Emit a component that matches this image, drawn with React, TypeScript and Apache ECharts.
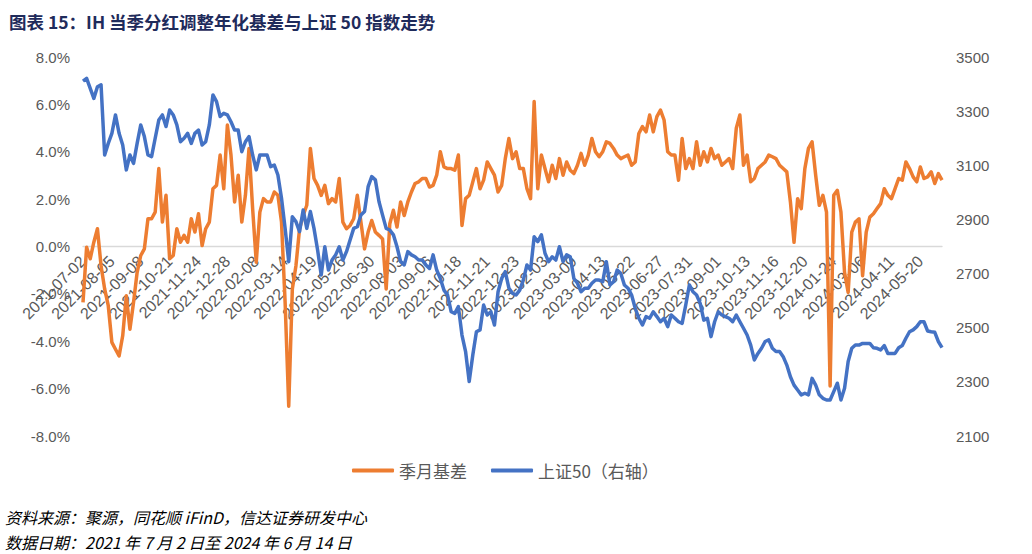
import React, { useEffect, useRef } from 'react';
import * as echarts from 'echarts';

const TITLE = '图表 15：IH 当季分红调整年化基差与上证 50 指数走势';
const SOURCE = '资料来源：聚源，同花顺 iFinD，信达证券研发中心';
const DATE_NOTE = '数据日期：2021 年 7 月 2 日至 2024 年 6 月 14 日';
const SERIES_NAMES = ['季月基差', '上证50（右轴）'];

// x-axis tick labels (one every 24 trading days)
const tickLabels = [
  '2021-07-02', '2021-08-05', '2021-09-08', '2021-10-21', '2021-11-24', '2021-12-28',
  '2022-02-08', '2022-03-14', '2022-04-19', '2022-05-26', '2022-06-30', '2022-08-03',
  '2022-09-06', '2022-10-18', '2022-11-21', '2022-12-23', '2023-02-03', '2023-03-09',
  '2023-04-13', '2023-05-22', '2023-06-27', '2023-07-31', '2023-09-01', '2023-10-13',
  '2023-11-16', '2023-12-20', '2024-01-24', '2024-03-06', '2024-04-11', '2024-05-20',
];

// sampled every 3 trading days
const STEP = 3;
const LABEL_EVERY = 24;

// 季月基差 (%), left axis
const basis = [
  -2.36, -0.03, -0.52, 0.18, 0.75, -0.81, -1.79, -2.50, -4.05, -4.34,
  -4.62, -3.77, -2.08, -3.49, -2.36, -1.09, -0.38, -0.10, 1.17, 1.17,
  1.45, 3.29, 1.03, 2.16, -0.52, -0.38, 0.75, 0.18, 0.47, 0.18,
  1.17, 0.61, 1.38, 0.04, 0.75, 1.03, 2.44, 2.58, 3.86, 2.44,
  5.13, 3.86, 1.88, 3.01, 1.03, 2.16, 4.14, 1.60, -0.66, 1.45,
  2.02, 1.88, 1.88, 2.30, 2.16, 1.03, -2.36, -6.74, -1.79, -0.81,
  0.75, 1.31, 1.74, 4.14, 2.87, 2.58, 2.16, 2.58, 1.81, 2.02,
  1.88, 2.87, 1.03, 0.75, 0.89, 1.17, 2.16, 1.03, -0.10, 0.61,
  1.10, 0.61, 0.47, 0.32, -1.79, 0.96, 1.53, 0.82, 1.88, 1.31,
  1.88, 2.30, 2.66, 2.73, 2.87, 2.87, 2.51, 2.58, 3.01, 4.00,
  3.36, 3.29, 3.29, 3.22, 3.86, 0.89, 2.02, 2.16, 2.73, 3.29,
  2.44, 2.80, 3.57, 3.29, 3.01, 2.30, 2.58, 3.71, 4.56, 3.71,
  4.00, 3.29, 3.29, 2.44, 2.02, 6.12, 2.44, 3.86, 3.29, 2.73,
  3.43, 2.87, 3.71, 3.01, 3.57, 3.22, 3.08, 3.43, 3.93, 3.43,
  3.86, 4.56, 4.00, 3.79, 4.00, 4.42, 4.35, 4.14, 3.86, 3.71,
  3.79, 3.86, 3.43, 3.57, 4.77, 5.06, 4.84, 5.55, 4.84, 5.48,
  5.76, 5.34, 4.00, 3.86, 3.86, 2.80, 4.56, 3.29, 3.71, 3.29,
  4.42, 3.43, 4.00, 3.57, 4.14, 3.71, 3.86, 3.43, 3.57, 3.71,
  3.29, 4.99, 5.55, 3.43, 3.86, 2.73, 2.87, 3.29, 3.43, 3.57,
  3.86, 3.79, 3.71, 3.43, 3.29, 3.15, 1.88, 0.18, 2.02, 1.60,
  3.29, 4.14, 4.42, 3.01, 1.74, 2.16, 1.45, -5.89, 2.16, 2.37,
  1.45, -1.09, -1.94, 0.61, 1.03, 1.17, -1.23, 0.61, 1.24, 1.38,
  1.60, 1.81, 2.44, 2.16, 2.02, 2.44, 2.87, 2.80, 3.57, 3.29,
  2.94, 2.73, 3.36, 2.87, 2.94, 3.15, 2.66, 3.08, 2.80,
];

// 上证50, right axis
const sz50 = [
  3411, 3421, 3384, 3347, 3390, 3397, 3138, 3181, 3218, 3286,
  3218, 3175, 3083, 3138, 3107, 3181, 3249, 3206, 3138, 3132,
  3200, 3267, 3286, 3243, 3304, 3286, 3249, 3187, 3200, 3218,
  3181, 3218, 3230, 3175, 3187, 3249, 3360, 3335, 3280, 3292,
  3286, 3261, 3230, 3230, 3150, 3187, 3206, 3138, 3083, 3138,
  3138, 3138, 3095, 3101, 3064, 2978, 2867, 2744, 2910, 2892,
  2855, 2935, 2867, 2929, 2867, 2787, 2695, 2799, 2713, 2750,
  2769, 2799, 2750, 2781, 2824, 2867, 2873, 2916, 2929, 3021,
  3058, 3046, 2966, 2916, 2867, 2861, 2843, 2799, 2744, 2732,
  2781, 2769, 2762, 2750, 2750, 2732, 2719, 2769, 2713, 2682,
  2639, 2621, 2559, 2553, 2578, 2473, 2412, 2301, 2399, 2485,
  2492, 2584, 2547, 2559, 2510, 2633, 2682, 2707, 2646, 2627,
  2621, 2639, 2676, 2732, 2713, 2836, 2818, 2843, 2775, 2744,
  2762, 2750, 2799, 2744, 2769, 2762, 2682, 2664, 2633, 2646,
  2646, 2664, 2676, 2676, 2670, 2744, 2658, 2670, 2713, 2701,
  2658, 2646, 2621, 2572, 2535, 2510, 2541, 2535, 2559, 2541,
  2522, 2535, 2504, 2547, 2535, 2522, 2516, 2584, 2658, 2633,
  2621, 2590, 2528, 2535, 2467, 2522, 2559, 2547, 2541, 2535,
  2522, 2547, 2522, 2498, 2473, 2436, 2381, 2405, 2424, 2449,
  2455, 2424, 2412, 2412, 2393, 2362, 2319, 2288, 2270, 2252,
  2258, 2252, 2313, 2288, 2252, 2239, 2233, 2233, 2264, 2295,
  2233, 2276, 2375, 2424, 2436, 2436, 2442, 2442, 2442, 2426,
  2424, 2418, 2434, 2405, 2405, 2405, 2426, 2434, 2461, 2485,
  2492, 2504, 2522, 2522, 2488, 2485, 2483, 2449, 2426,
];

const rightTicks = [2100, 2300, 2500, 2700, 2900, 3100, 3300, 3500];

const ORANGE = '#ED7D31';
const BLUE = '#4472C4';
const AXIS_TEXT = '#595959';
const NUM_FONT = '"Liberation Sans", Arial, sans-serif';
const CJK_FONT = '"Noto Sans CJK SC", "Liberation Sans", sans-serif';

// layout
const GRID_TOP = 57;
const GRID_BOTTOM = 118;
const CHART_H = 554;
const LEFT_MIN = -8;
const LEFT_MAX = 8;

export default function App() {
  const ref = useRef<HTMLDivElement>(null);

  useEffect(() => {
    if (!ref.current) return;
    const chart = echarts.init(ref.current, undefined, { renderer: 'svg' });
    const maxX = (basis.length - 1) * STEP;
    const basisData = basis.map((v, k) => [k * STEP, v]);
    const szData = sz50.map((v, k) => [k * STEP, v]);
    const xTickValues = tickLabels.map((_, i) => i * LABEL_EVERY);
    // move the category axis (line + labels) up to the 0% level, as in the original
    const plotH = CHART_H - GRID_TOP - GRID_BOTTOM;
    const zeroOffset = -plotH * (0 - LEFT_MIN) / (LEFT_MAX - LEFT_MIN);

    chart.setOption({
      animation: false,
      backgroundColor: '#ffffff',
      title: {
        text: TITLE,
        left: 4,
        top: 8,
        textStyle: { fontSize: 17.5, fontWeight: 'bold', color: '#1F2B5B', fontFamily: CJK_FONT },
      },
      legend: {
        left: 347,
        top: 457,
        itemWidth: 42,
        itemHeight: 4,
        itemGap: 24,
        icon: 'roundRect',
        data: SERIES_NAMES,
        textStyle: { fontSize: 17, color: AXIS_TEXT, fontFamily: CJK_FONT },
      },
      grid: { left: 83, right: 90, top: GRID_TOP, bottom: GRID_BOTTOM, containLabel: false },
      xAxis: {
        type: 'value',
        min: 0,
        max: maxX,
        offset: zeroOffset,
        axisLine: { onZero: false, lineStyle: { color: '#D9D9D9', width: 1.3 } },
        axisTick: { show: false },
        splitLine: { show: false },
        axisLabel: {
          rotate: 45,
          margin: 12,
          customValues: xTickValues,
          formatter: (v: number) => tickLabels[Math.round(v / LABEL_EVERY)] ?? '',
          color: AXIS_TEXT,
          fontSize: 16,
          fontFamily: NUM_FONT,
        },
      },
      yAxis: [
        {
          type: 'value',
          min: LEFT_MIN,
          max: LEFT_MAX,
          interval: 2,
          axisLine: { show: false, onZero: false },
          axisTick: { show: false },
          splitLine: { show: false },
          axisLabel: {
            formatter: (v: number) => v.toFixed(1) + '%',
            color: AXIS_TEXT,
            fontSize: 15,
            margin: 13,
            fontFamily: NUM_FONT,
          },
        },
        {
          type: 'value',
          position: 'right',
          min: 2100,
          max: 3500,
          axisLine: { show: false, onZero: false },
          axisTick: { show: false },
          splitLine: { show: false },
          axisLabel: {
            customValues: rightTicks,
            formatter: (v: number) => String(v),
            color: AXIS_TEXT,
            fontSize: 15,
            margin: 14,
            fontFamily: NUM_FONT,
          },
        },
      ],
      series: [
        {
          name: SERIES_NAMES[0],
          type: 'line',
          yAxisIndex: 0,
          data: basisData,
          symbol: 'none',
          showSymbol: false,
          lineStyle: { width: 3.5, color: ORANGE, join: 'round' },
          itemStyle: { color: ORANGE },
        },
        {
          name: SERIES_NAMES[1],
          type: 'line',
          yAxisIndex: 1,
          data: szData,
          symbol: 'none',
          showSymbol: false,
          lineStyle: { width: 3.5, color: BLUE, join: 'round' },
          itemStyle: { color: BLUE },
        },
      ],
      graphic: [
        {
          type: 'text',
          left: 5,
          top: 509,
          style: { text: SOURCE, fontSize: 16, fontStyle: 'italic', fontFamily: CJK_FONT, fill: '#000000' },
        },
        {
          type: 'text',
          left: 5,
          top: 534,
          style: { text: DATE_NOTE, fontSize: 16, fontStyle: 'italic', fontFamily: CJK_FONT, fill: '#000000' },
        },
      ],
    });

    return () => chart.dispose();
  }, []);

  return (
    <div
      ref={ref}
      style={{ position: 'absolute', left: 0, top: 0, width: 1032, height: 554, background: '#ffffff' }}
    />
  );
}
